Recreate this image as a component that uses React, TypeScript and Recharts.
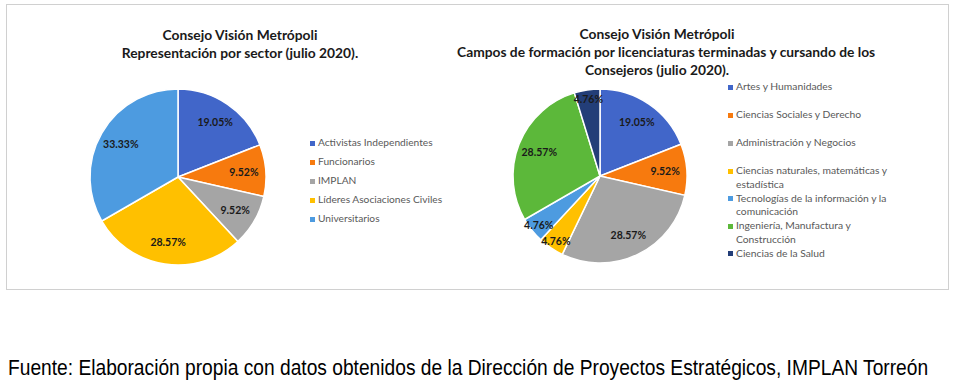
import { PieChart, Pie, Cell, Legend } from 'recharts'

const sectorNames = ['Activistas Independientes', 'Funcionarios', 'IMPLAN', 'Líderes Asociaciones Civiles', 'Universitarios']
const sectorValues = [19.05, 9.52, 9.52, 28.57, 33.33]
const sectorColors = ['#4166C9', '#F77A0E', '#A5A5A5', '#FFC000', '#4D9BE0']

const campoNames = [
  'Artes y Humanidades',
  'Ciencias Sociales y Derecho',
  'Administración y Negocios',
  'Ciencias naturales, matemáticas y estadística',
  'Tecnologías de la información y la comunicación',
  'Ingeniería, Manufactura y Construcción',
  'Ciencias de la Salud',
]
const campoValues = [19.05, 9.52, 28.57, 4.76, 4.76, 28.57, 4.76]
const campoColors = ['#4166C9', '#F77A0E', '#A5A5A5', '#FFC000', '#4D9BE0', '#5CB83A', '#233E78']

const sectorData = sectorNames.map((name, i) => ({ name, value: sectorValues[i] }))
const campoData = campoNames.map((name, i) => ({ name, value: campoValues[i] }))

const RAD = Math.PI / 180
const font = 'Lato, "Open Sans", sans-serif'

function renderLabel(props: any) {
  const { cx, cy, midAngle, outerRadius, value } = props
  const r = outerRadius * (value < 6 ? 0.9 : 0.75)
  const x = cx + r * Math.cos(-midAngle * RAD)
  const y = cy + r * Math.sin(-midAngle * RAD)
  return (
    <text x={x} y={y} textAnchor="middle" dominantBaseline="central" fontFamily={font} fontWeight={700} fontSize={10.5} fill="#1a1a1a">
      {value.toFixed(2)}%
    </text>
  )
}

function makeLegend(order: string[], gaps: number[], lineWidth: number, size: number) {
  return (props: any) => {
    const items = [...(props.payload || [])].sort((a: any, b: any) => order.indexOf(a.value) - order.indexOf(b.value))
    return (
      <div style={{ fontFamily: font, fontSize: size, color: '#595959' }}>
        {items.map((it: any, i: number) => (
          <div key={i} style={{ display: 'flex', alignItems: 'flex-start', marginTop: i === 0 ? 0 : gaps[i], lineHeight: '13.5px' }}>
            <span style={{ display: 'inline-block', width: 5, height: 5, background: it.color, marginTop: 4.5, marginRight: 3, flexShrink: 0 }} />
            <span style={{ width: lineWidth }}>{it.value}</span>
          </div>
        ))}
      </div>
    )
  }
}

const titleStyle: React.CSSProperties = {
  position: 'absolute',
  fontFamily: font,
  fontWeight: 700,
  fontSize: 13.8,
  lineHeight: '17.8px',
  color: '#1a1a1a',
  textAlign: 'center',
  whiteSpace: 'nowrap',
}

export default function App() {
  return (
    <div style={{ position: 'absolute', left: 0, top: 0, width: 954, height: 381, background: '#fff' }}>
      <div style={{ position: 'absolute', left: 6, top: 4, width: 941, height: 284, border: '1px solid #d0d0d0' }} />

      <div style={{ ...titleStyle, left: 40, top: 26, width: 400 }}>
        Consejo Visión Metrópoli
        <br />
        Representación por sector (julio 2020).
      </div>
      <div style={{ ...titleStyle, left: 457, top: 25, width: 400 }}>
        Consejo Visión Metrópoli
        <br />
        Campos de formación por licenciaturas terminadas y cursando de los
        <br />
        Consejeros (julio 2020).
      </div>

      <div style={{ position: 'absolute', left: 6, top: 4 }}>
        <PieChart width={470} height={285} margin={{ top: 0, right: 0, bottom: 0, left: 0 }}>
          <Pie
            data={sectorData}
            dataKey="value"
            nameKey="name"
            cx={172}
            cy={173}
            outerRadius={88}
            startAngle={90}
            endAngle={-270}
            stroke="#fff"
            strokeWidth={1.5}
            label={renderLabel}
            labelLine={false}
            isAnimationActive={false}
          >
            {sectorData.map((d, i) => (
              <Cell key={d.name} fill={sectorColors[i]} />
            ))}
          </Pie>
          <Legend
            layout="vertical"
            align="right"
            verticalAlign="top"
            itemSorter={null}
            content={makeLegend(sectorNames, [0, 5.5, 5.5, 5.5, 5.5], 170, 10.2)}
            wrapperStyle={{ left: 304, top: 132, width: 175 }}
          />
        </PieChart>
      </div>

      <div style={{ position: 'absolute', left: 480, top: 4 }}>
        <PieChart width={468} height={285} margin={{ top: 0, right: 0, bottom: 0, left: 0 }}>
          <Pie
            data={campoData}
            dataKey="value"
            nameKey="name"
            cx={120}
            cy={172}
            outerRadius={87}
            startAngle={90}
            endAngle={-270}
            stroke="#fff"
            strokeWidth={1.5}
            label={renderLabel}
            labelLine={false}
            isAnimationActive={false}
          >
            {campoData.map((d, i) => (
              <Cell key={d.name} fill={campoColors[i]} />
            ))}
          </Pie>
          <Legend
            layout="vertical"
            align="right"
            verticalAlign="top"
            itemSorter={null}
            content={makeLegend(campoNames, [0, 14.5, 14.5, 14.5, 0.5, 0.5, 0.5], 162, 10.3)}
            wrapperStyle={{ left: 248, top: 76, width: 175 }}
          />
        </PieChart>
      </div>

      <div
        style={{
          position: 'absolute',
          left: 8,
          top: 355,
          fontFamily: '"Liberation Sans", Arial, sans-serif',
          fontSize: 19.2,
          lineHeight: '22px',
          color: '#000',
          whiteSpace: 'nowrap',
          transform: 'scaleY(1.18)',
          transformOrigin: 'top left',
        }}
      >
        Fuente: Elaboración propia con datos obtenidos de la Dirección de Proyectos Estratégicos, IMPLAN Torreón
      </div>
    </div>
  )
}
